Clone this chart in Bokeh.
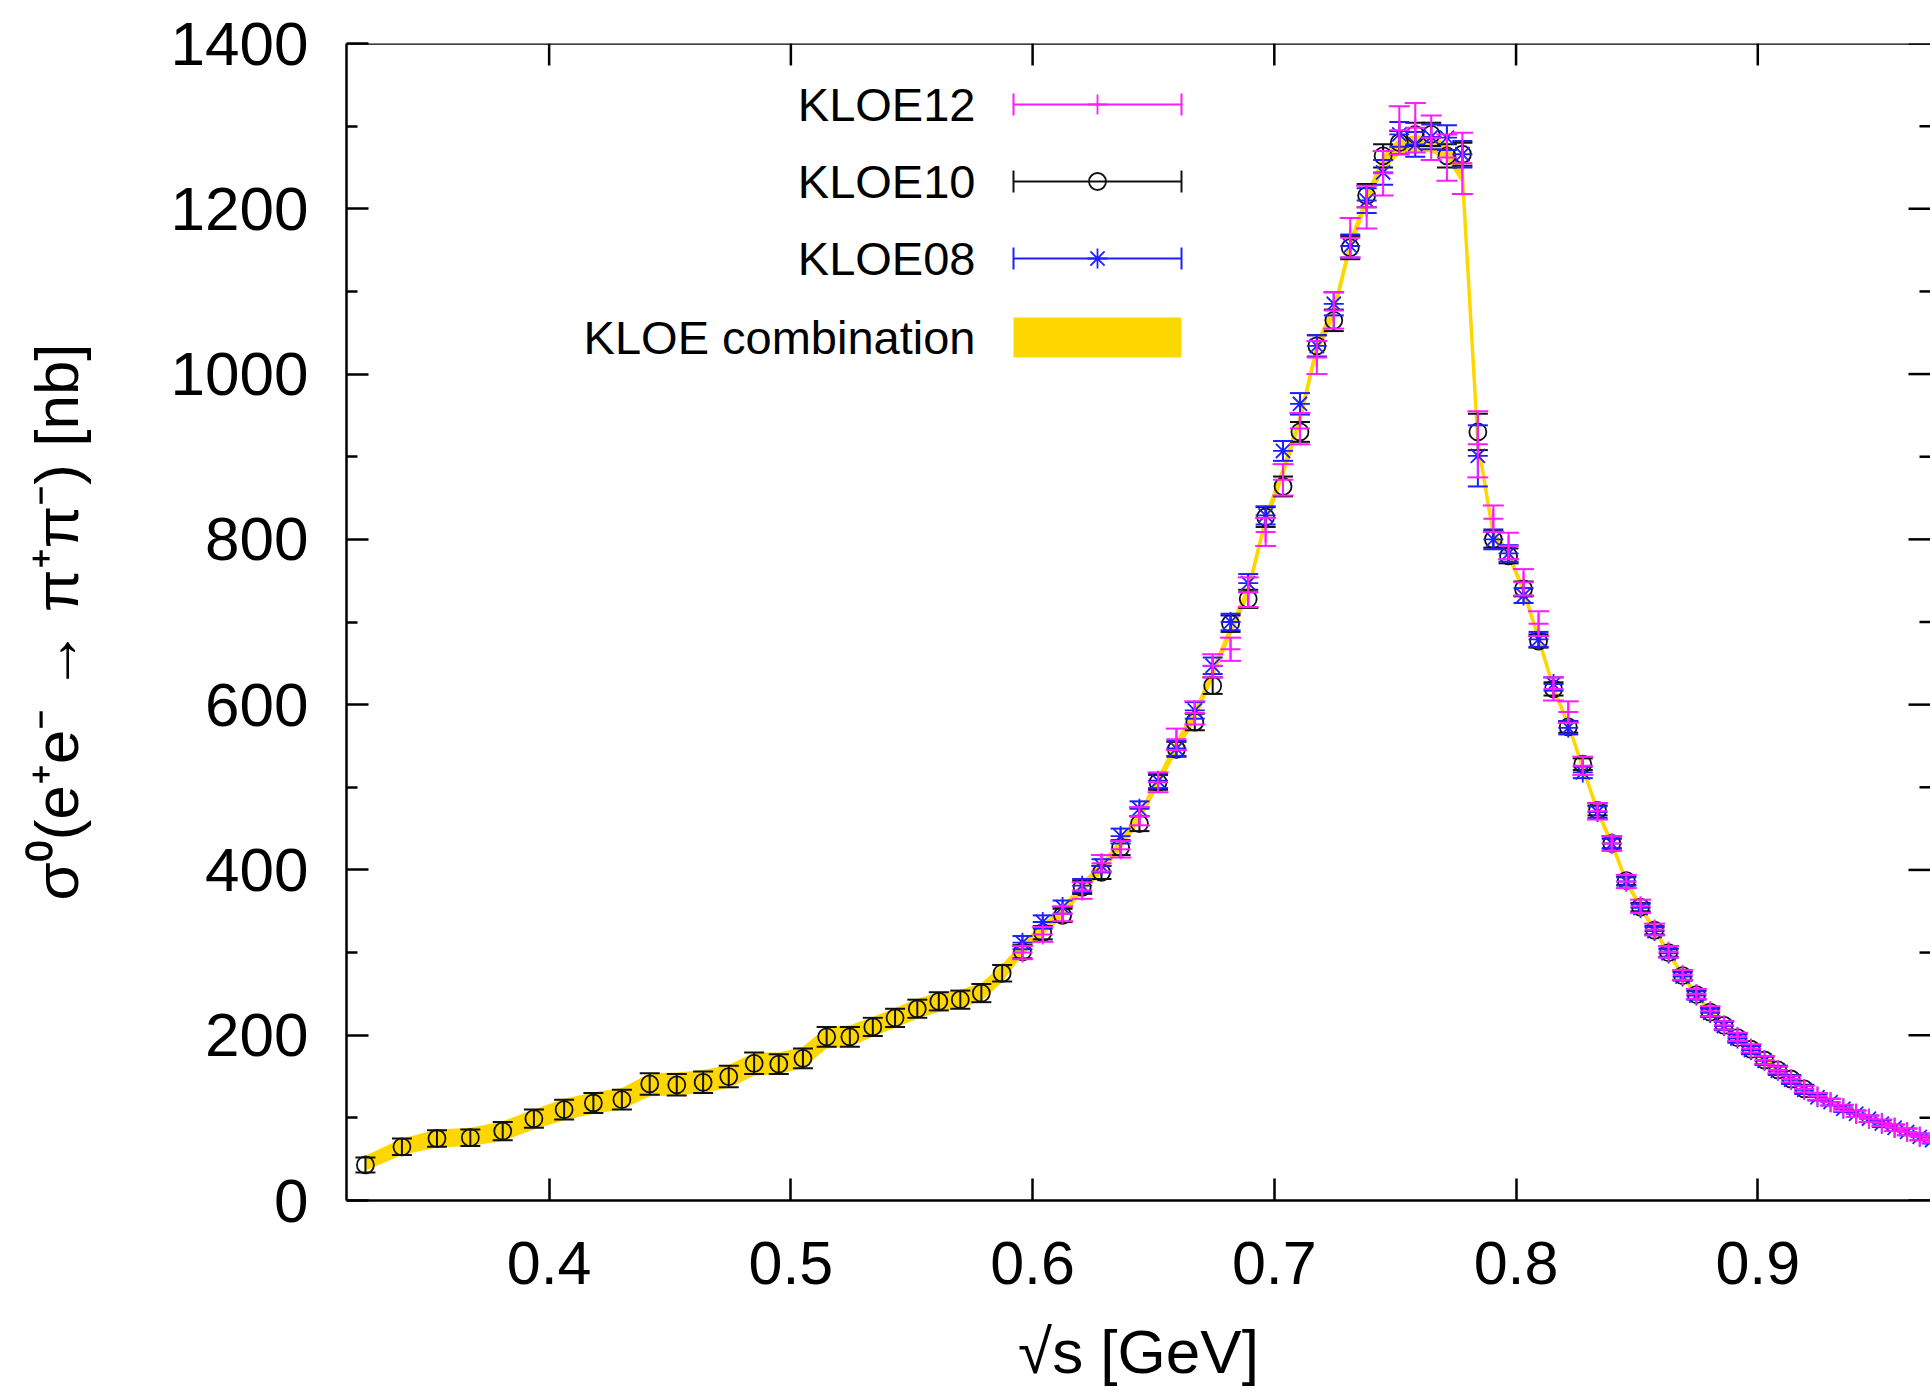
from bokeh.plotting import figure
from bokeh.models import Range1d, FixedTicker, Span
from bokeh.embed import file_html
from bokeh.resources import INLINE
from bokeh.core.properties import value

# ---------------- data ----------------
# sqrt(s) [GeV] of KLOE10 points
sqrt_s_kloe10 = [
    0.3240, 0.3391, 0.3536, 0.3674, 0.3808, 0.3937, 0.4062, 0.4183, 0.4301, 0.4416,
    0.4528, 0.4637, 0.4743, 0.4848, 0.4950, 0.5050, 0.5148, 0.5244, 0.5339, 0.5431,
    0.5523, 0.5612, 0.5701, 0.5788, 0.5874, 0.5958, 0.6042, 0.6124, 0.6205, 0.6285,
    0.6364, 0.6442, 0.6519, 0.6595, 0.6671, 0.6745, 0.6819, 0.6892, 0.6964, 0.7036,
    0.7106, 0.7176, 0.7246, 0.7314, 0.7382, 0.7450, 0.7517, 0.7583, 0.7649, 0.7714,
    0.7778, 0.7842, 0.7906, 0.7969, 0.8031, 0.8093, 0.8155, 0.8216, 0.8276, 0.8337,
    0.8396, 0.8456, 0.8515, 0.8573, 0.8631, 0.8689, 0.8746, 0.8803, 0.8860, 0.8916,
    0.8972, 0.9028, 0.9083, 0.9138, 0.9192]
sigma_kloe10 = [
    43, 65, 75, 76, 84, 99, 110, 118, 122, 141,
    140, 143, 150, 166, 165, 172, 198, 198, 210, 221,
    232, 241, 243, 251, 275, 301, 324, 345, 379, 397,
    427, 456, 506, 546, 579, 623, 698, 728, 827, 864,
    930, 1034, 1065, 1153, 1216, 1264, 1280, 1290, 1290, 1264,
    1266, 930, 800, 780, 740, 677, 619, 573, 528, 472,
    432, 387, 355, 327, 300, 272, 249, 228, 212, 197,
    183, 170, 158, 147, 135]
err_kloe10 = [
    9, 10, 10, 10, 11, 11, 12, 12, 12, 13,
    13, 13, 13, 13, 12, 12, 12, 12, 11, 11,
    11, 11, 11, 11, 10, 8, 8, 8, 8, 8,
    9, 9, 9, 9, 10, 10, 10, 11, 12, 12,
    12, 13, 13, 14, 14, 14, 14, 14, 14, 14,
    14, 22, 10, 9, 9, 8, 8, 7, 7, 6,
    6, 5, 5, 5, 5, 5, 5, 5, 5, 5,
    5, 5, 5, 5, 5]

# sqrt(s) [GeV] of KLOE08 / KLOE12 points
sqrt_s_kloe08_12 = [
    0.5958, 0.6042, 0.6124, 0.6205, 0.6285, 0.6364, 0.6442, 0.6519, 0.6595, 0.6671,
    0.6745, 0.6819, 0.6892, 0.6964, 0.7036, 0.7106, 0.7176, 0.7246, 0.7314, 0.7382,
    0.7450, 0.7517, 0.7583, 0.7649, 0.7714, 0.7778, 0.7842, 0.7906, 0.7969, 0.8031,
    0.8093, 0.8155, 0.8216, 0.8276, 0.8337, 0.8396, 0.8456, 0.8515, 0.8573, 0.8631,
    0.8689, 0.8746, 0.8803, 0.8860, 0.8916, 0.8972, 0.9028, 0.9083, 0.9138, 0.9192,
    0.9247, 0.9301, 0.9354, 0.9407, 0.9460, 0.9513, 0.9566, 0.9618, 0.9670, 0.9721]
sigma_kloe08 = [
    312, 337, 355, 381, 405, 441, 474, 508, 547, 593,
    647, 700, 747, 829, 907, 964, 1034, 1085, 1155, 1210,
    1244, 1290, 1278, 1287, 1286, 1266, 901, 800, 783, 732,
    679, 625, 572, 518, 470, 432, 386, 354, 326, 299,
    271, 248, 227, 211, 196, 182, 169, 157, 146, 134,
    125, 119, 111, 105, 99, 93, 88, 83, 77, 73]
err_kloe08 = [
    8, 8, 8, 8, 8, 9, 9, 9, 9, 10,
    10, 10, 11, 11, 12, 13, 13, 14, 14, 15,
    15, 15, 15, 15, 15, 16, 37, 12, 10, 9,
    9, 8, 8, 7, 7, 6, 5, 5, 5, 5,
    5, 5, 5, 5, 5, 5, 5, 5, 5, 5,
    4, 4, 4, 4, 4, 4, 4, 4, 4, 4]
sigma_kloe12 = [
    300, 322, 347, 375, 408, 425, 465, 506, 558, 590,
    647, 667, 736, 809, 872, 934, 1020, 1077, 1165, 1202,
    1243, 1295, 1298, 1286, 1262, 1255, 915, 825, 792, 748,
    698, 619, 591, 526, 471, 432, 386, 356, 328, 301,
    273, 250, 229, 212, 198, 184, 170, 158, 147, 135,
    126, 119, 112, 105, 99, 94, 88, 83, 77, 74]
err_kloe12 = [
    8, 9, 9, 10, 10, 10, 11, 12, 13, 14,
    14, 14, 18, 17, 19, 19, 20, 22, 24, 26,
    27, 29, 30, 27, 28, 37, 40, 16, 16, 16,
    15, 14, 13, 11, 10, 9, 8, 8, 7, 7,
    6, 6, 6, 5, 5, 5, 5, 4, 4, 4,
    4, 4, 4, 4, 4, 4, 4, 4, 4, 4]

# KLOE combination (band)
sqrt_s_comb = [
    0.3240, 0.3391, 0.3536, 0.3674, 0.3808, 0.3937, 0.4062, 0.4183, 0.4301, 0.4416,
    0.4528, 0.4637, 0.4743, 0.4848, 0.4950, 0.5050, 0.5148, 0.5244, 0.5339, 0.5431,
    0.5523, 0.5612, 0.5701, 0.5788, 0.5874, 0.5958, 0.6042, 0.6124, 0.6205, 0.6285,
    0.6364, 0.6442, 0.6519, 0.6595, 0.6671, 0.6745, 0.6819, 0.6892, 0.6964, 0.7036,
    0.7106, 0.7176, 0.7246, 0.7314, 0.7382, 0.7450, 0.7517, 0.7583, 0.7649, 0.7714,
    0.7778, 0.7842, 0.7906, 0.7969, 0.8031, 0.8093, 0.8155, 0.8216, 0.8276, 0.8337,
    0.8396, 0.8456, 0.8515, 0.8573, 0.8631, 0.8689, 0.8746, 0.8803, 0.8860, 0.8916,
    0.8972, 0.9028, 0.9083, 0.9138, 0.9192, 0.9247, 0.9301, 0.9354, 0.9407, 0.9460,
    0.9513, 0.9566, 0.9618, 0.9670, 0.9721]
sigma_comb = [
    45, 65, 75, 77, 84, 98, 110, 118, 123, 140,
    141, 144, 150, 165, 166, 173, 197, 199, 210, 221,
    232, 240, 244, 252, 275, 305, 328, 349, 379, 402,
    431, 465, 507, 550, 587, 638, 690, 738, 824, 882,
    945, 1032, 1076, 1156, 1212, 1255, 1276, 1279, 1278, 1270,
    1240, 918, 805, 782, 738, 680, 620, 576, 524, 471,
    432, 386, 355, 327, 300, 272, 249, 228, 212, 197,
    183, 170, 158, 147, 135, 125, 119, 111, 105, 99,
    93, 88, 83, 77, 73]
err_comb = [
    9, 10, 11, 11, 12, 12, 13, 13, 13, 14,
    14, 14, 14, 14, 13, 13, 13, 13, 12, 12,
    12, 12, 11, 11, 11, 8, 7, 7, 7, 7,
    7, 7, 7, 8, 8, 8, 8, 8, 8, 9,
    9, 9, 9, 9, 9, 10, 10, 10, 10, 10,
    10, 8, 6, 6, 6, 6, 5, 5, 5, 5,
    5, 5, 4, 4, 4, 4, 4, 4, 3, 3,
    3, 3, 3, 3, 3, 3, 3, 3, 3, 3,
    3, 3, 3, 3, 3]

x_ticks = [0.4, 0.5, 0.6, 0.7, 0.8, 0.9]
y_ticks = [0, 200, 400, 600, 800, 1000, 1200, 1400]
y_minor = [100, 300, 500, 700, 900, 1100, 1300]
legend_labels = ["KLOE12", "KLOE10", "KLOE08", "KLOE combination"]
x_title = "√s [GeV]"
y_title = "σ⁰(e⁺e⁻ → π⁺π⁻) [nb]"

# ---------------- styles ----------------
FONT = "Liberation Sans"
GOLD = "#ffd700"
MAGENTA = "#ff1aff"
BLUE = "#1f1fff"
BLACK = "#111111"

W, H = 1930, 1388
B_LEFT, B_TOP, B_BOTTOM = 346, 43, 188
FRAME_W, FRAME_H = W - B_LEFT, H - B_TOP - B_BOTTOM   # 1584 x 1157
X0, X1 = 0.31617, 0.97145
Y0, Y1 = 0, 1400

p = figure(width=W, height=H, output_backend="svg", toolbar_location=None,
           x_range=Range1d(X0, X1), y_range=Range1d(Y0, Y1),
           min_border_left=B_LEFT, min_border_right=0, min_border_top=B_TOP,
           min_border_bottom=B_BOTTOM,
           x_axis_label=x_title, y_axis_label=y_title)
p.outline_line_color = None
p.grid.visible = False
p.background_fill_color = "white"
p.border_fill_color = "white"

# frame-pixel coordinate system (for the legend)
p.extra_x_ranges = {"lx": Range1d(0, FRAME_W)}
p.extra_y_ranges = {"ly": Range1d(0, FRAME_H)}


def style_axis(ax, size):
    ax.axis_line_width = 2.5
    ax.axis_line_color = "black"
    ax.major_tick_line_width = 2.5
    ax.minor_tick_line_width = 2.5
    ax.major_tick_in = 22
    ax.major_tick_out = 0
    ax.minor_tick_in = 11
    ax.minor_tick_out = 0
    ax.major_tick_line_color = "black"
    ax.minor_tick_line_color = "black"
    ax.major_label_text_font = FONT
    ax.major_label_text_font_size = size
    ax.major_label_text_color = "black"
    ax.axis_label_text_font = FONT
    ax.axis_label_text_font_size = "62px"
    ax.axis_label_text_font_style = "normal"
    ax.axis_label_text_color = "black"


xa = p.xaxis[0]
xa.ticker = FixedTicker(ticks=x_ticks, minor_ticks=[])
style_axis(xa, "61px")
xa.major_label_standoff = 41
xa.axis_label_standoff = 30

ya = p.yaxis[0]
ya.ticker = FixedTicker(ticks=y_ticks, minor_ticks=y_minor)
style_axis(ya, "62px")
ya.major_label_standoff = 38
ya.axis_label_standoff = 77

# top frame line and ticks, right-hand ticks (no labels)
p.add_layout(Span(location=Y1, dimension="width", line_color="black",
                  line_width=2.5))
tick_y_major = 22 * (Y1 - Y0) / FRAME_H
tick_x_major = 22 * (X1 - X0) / FRAME_W
tick_x_minor = 11 * (X1 - X0) / FRAME_W
p.segment(x0=x_ticks, y0=[Y1] * len(x_ticks), x1=x_ticks,
          y1=[Y1 - tick_y_major] * len(x_ticks), line_color="black",
          line_width=2.5)
p.segment(x0=[X1] * len(y_ticks), y0=y_ticks,
          x1=[X1 - tick_x_major] * len(y_ticks), y1=y_ticks,
          line_color="black", line_width=2.5)
p.segment(x0=[X1] * len(y_minor), y0=y_minor,
          x1=[X1 - tick_x_minor] * len(y_minor), y1=y_minor,
          line_color="black", line_width=2.5)

# ---------------- combination band ----------------
band_lo = [v - e for v, e in zip(sigma_comb, err_comb)]
band_hi = [v + e for v, e in zip(sigma_comb, err_comb)]
p.varea(x=sqrt_s_comb, y1=band_lo, y2=band_hi, fill_color=GOLD)
p.line(x=sqrt_s_comb, y=sigma_comb, line_color=GOLD, line_width=3.5)


def errorbars(x, y, e, color, cap):
    lo = [v - d for v, d in zip(y, e)]
    hi = [v + d for v, d in zip(y, e)]
    p.segment(x0=x, y0=lo, x1=x, y1=hi, line_color=color, line_width=2)
    p.scatter(x=x + x, y=lo + hi, marker="dash", size=cap,
              line_color=color, line_width=2)


# KLOE10
errorbars(sqrt_s_kloe10, sigma_kloe10, err_kloe10, BLACK, 20)
p.scatter(x=sqrt_s_kloe10, y=sigma_kloe10, marker="circle", size=17,
          fill_color=None, line_color=BLACK, line_width=1.8)
# KLOE08
errorbars(sqrt_s_kloe08_12, sigma_kloe08, err_kloe08, BLUE, 20)
p.scatter(x=sqrt_s_kloe08_12, y=sigma_kloe08, marker="asterisk", size=20,
          line_color=BLUE, line_width=1.8)
# KLOE12
errorbars(sqrt_s_kloe08_12, sigma_kloe12, err_kloe12, MAGENTA, 21)
p.scatter(x=sqrt_s_kloe08_12, y=sigma_kloe12, marker="cross", size=20,
          line_color=MAGENTA, line_width=2)

# ---------------- legend (frame pixel coordinates) ----------------
L_TEXT_X = 629
L_X0, L_X1 = 667, 835
L_XC = (L_X0 + L_X1) / 2
row_y = [1096, 1019, 942, 863]
row_colors = [MAGENTA, BLACK, BLUE]
row_markers = ["cross", "circle", "asterisk"]
row_sizes = [20, 17, 20]

p.text(x=[L_TEXT_X] * 4, y=row_y, text=legend_labels, x_range_name="lx",
       y_range_name="ly", text_font=value(FONT), text_font_size=value("47px"),
       text_align="right", text_baseline="middle", text_color="black")

for yy, col, mk, sz in zip(row_y[:3], row_colors, row_markers, row_sizes):
    p.segment(x0=[L_X0], y0=[yy], x1=[L_X1], y1=[yy], line_color=col,
              line_width=2, x_range_name="lx", y_range_name="ly")
    p.segment(x0=[L_X0, L_X1], y0=[yy - 11, yy - 11], x1=[L_X0, L_X1],
              y1=[yy + 11, yy + 11], line_color=col, line_width=2,
              x_range_name="lx", y_range_name="ly")
    p.scatter(x=[L_XC], y=[yy], marker=mk, size=sz, fill_color=None,
              line_color=col, line_width=1.8, x_range_name="lx",
              y_range_name="ly")

p.quad(left=[L_X0], right=[L_X1], bottom=[row_y[3] - 20], top=[row_y[3] + 20],
       fill_color=GOLD, line_color=None, x_range_name="lx", y_range_name="ly")

open("out.html", "w").write(file_html(p, INLINE))
